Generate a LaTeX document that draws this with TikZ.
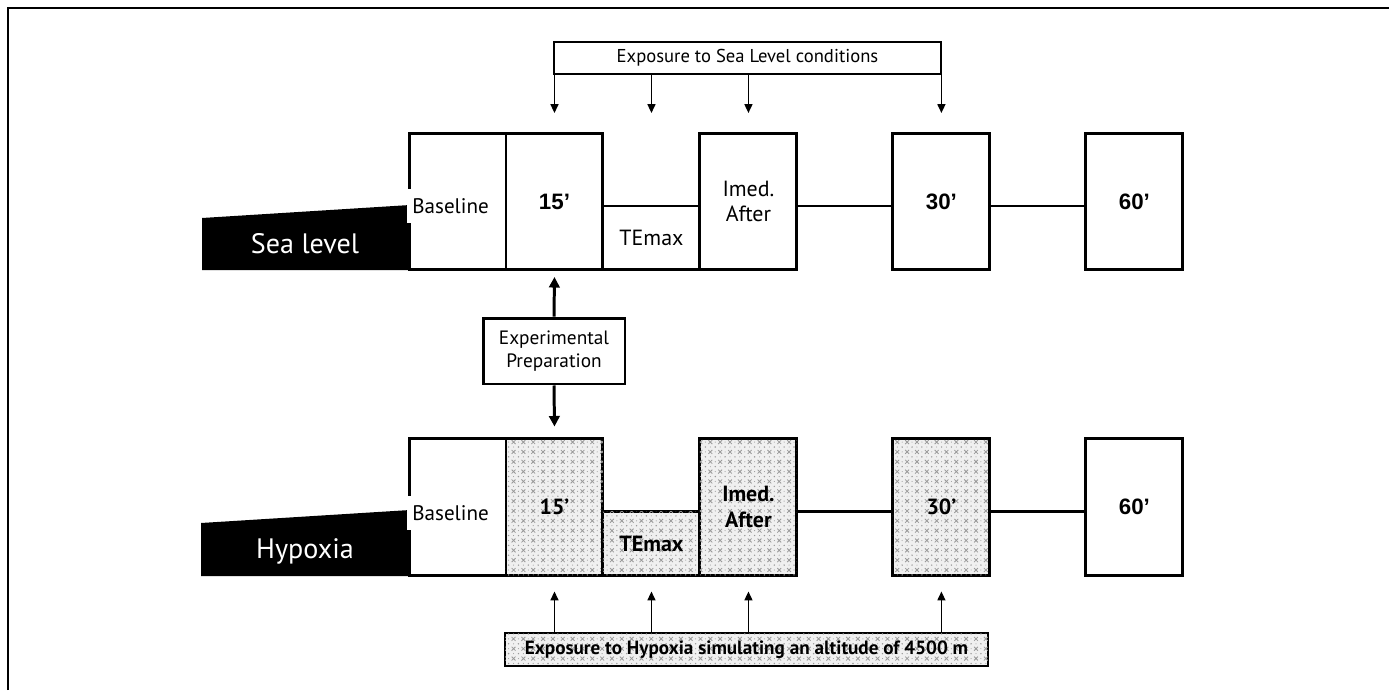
\documentclass[tikz,border=0pt]{standalone}
\usepackage{fontspec}
\setmainfont{PT Sans}
\newfontfamily\arialfont{Liberation Sans}
\usetikzlibrary{positioning,patterns,arrows.meta}

% dotted cross texture of the hypoxia boxes
\pgfdeclarepatternformonly{xdots}{\pgfqpoint{-1pt}{-1pt}}{\pgfqpoint{7pt}{7pt}}{\pgfqpoint{5.6pt}{5.6pt}}{
    \pgfsetlinewidth{0.45pt}
    \pgfpathmoveto{\pgfqpoint{0pt}{0pt}}\pgfpathlineto{\pgfqpoint{2.2pt}{2.2pt}}
    \pgfpathmoveto{\pgfqpoint{0pt}{2.2pt}}\pgfpathlineto{\pgfqpoint{2.2pt}{0pt}}
    \pgfusepath{stroke}
    \pgfpathcircle{\pgfqpoint{3.9pt}{3.9pt}}{0.45pt}
    \pgfpathcircle{\pgfqpoint{3.9pt}{1.1pt}}{0.3pt}
    \pgfpathcircle{\pgfqpoint{1.1pt}{3.9pt}}{0.3pt}
    \pgfusepath{fill}
}

\begin{document}
\begin{tikzpicture}[x=0.02cm, y=-0.02cm,
    phasebox/.style={rectangle, draw=black, line width=1.7pt, fill=white, minimum width=1.94cm, minimum height=2.74cm, inner sep=0pt, outer sep=0pt, align=center, font=\fontsize{12.5}{14.5}\selectfont},
    lowbox/.style={phasebox, minimum height=1.28cm},
    hatched/.style={fill=gray!12, postaction={pattern=xdots, pattern color=gray!80}},
    timelbl/.style={font=\arialfont\bfseries\fontsize{12.7}{14}\selectfont},
    boldlbl/.style={font=\bfseries\fontsize{12.5}{14.5}\selectfont},
    baselbl/.style={anchor=west, fill=white, inner xsep=0.1cm, inner ysep=0pt, minimum height=0.68cm, font=\fontsize{12}{14}\selectfont},
    tag/.style={text=white, font=\fontsize{16}{18}\selectfont},
    expobox/.style={rectangle, draw=black, line width=1pt, inner sep=0pt, minimum height=0.65cm},
    prepbox/.style={rectangle, draw=black, line width=1.7pt, fill=white, minimum width=2.84cm, minimum height=1.32cm, align=center, inner sep=0pt, font=\fontsize{11}{13}\selectfont},
    linkline/.style={line width=1.7pt},
    exparrow/.style={line width=0.8pt, -{Triangle[width=4.5pt,length=5pt]}},
    bigarrow/.style={line width=1.7pt, -{Triangle[width=6pt,length=6pt]}}]

    % frame
    \useasboundingbox (0,0) rectangle (1389,690);
    \draw[line width=1.2pt] (8,690) -- (8,8) -- (1389,8);

    % sea level row
    \fill (202,218) -- (410,205) -- (410,270) -- (202,270) -- cycle;
    \node[tag] (sealbl) at (305,244) {Sea level};
    \node[phasebox] (sbase) at (457.5,201.5) {};
    \node[phasebox, timelbl] (s15) [right=0pt of sbase] {15’};
    \node[lowbox] (stemax) at (s15.south east) [anchor=south west] {TEmax};
    \node[phasebox] (simed) [right=1.94cm of s15] {Imed.\\After};
    \node[phasebox, timelbl] (s30) [right=1.92cm of simed] {30’};
    \node[phasebox, timelbl] (s60) [right=1.92cm of s30] {60’};
    \draw[linkline] (simed.east |- stemax.north) -- (s30.west |- stemax.north);
    \draw[linkline] (s30.east |- stemax.north) -- (s60.west |- stemax.north);
    \node[baselbl] (sbaselbl) at ([xshift=-0.04cm, yshift=-0.09cm]sbase.west) {Baseline};

    % hypoxia row
    \fill (201,523) -- (410,510) -- (410,576) -- (201,576) -- cycle;
    \node[tag] (hyplbl) at (305,551) {Hypoxia};
    \node[phasebox] (hbase) at (457.5,507) {};
    \node[phasebox, hatched, boldlbl] (h15) [right=0pt of hbase] {15’};
    \node[lowbox, hatched, boldlbl] (htemax) at (h15.south east) [anchor=south west] {TEmax};
    \node[phasebox, hatched, boldlbl] (himed) [right=1.94cm of h15] {Imed.\\After};
    \node[phasebox, hatched, boldlbl] (h30) [right=1.92cm of himed] {30’};
    \node[phasebox, timelbl] (h60) [right=1.92cm of h30] {60’};
    \draw[linkline] (himed.east |- htemax.north) -- (h30.west |- htemax.north);
    \draw[linkline] (h30.east |- htemax.north) -- (h60.west |- htemax.north);
    \node[baselbl] (hbaselbl) at ([xshift=-0.04cm, yshift=-0.12cm]hbase.west) {Baseline};

    % preparation
    \node[prepbox] (prep) at (554,351) {Experimental\\Preparation};
    \draw[bigarrow] (prep.north) -- ([yshift=-0.14cm]s15.south);
    \draw[bigarrow] (prep.south) -- ([yshift=0.24cm]h15.north);

    % exposure to sea level
    \node[expobox, minimum width=7.74cm, font=\fontsize{10.6}{12}\selectfont] (seaexp) at (747.5,58) {Exposure to Sea Level conditions};
    \foreach \t in {s15, stemax, simed, s30}
        \draw[exparrow] (seaexp.south -| \t.north) -- ([yshift=0.4cm]\t.north |- s15.north);

    % exposure to hypoxia
    \node[expobox, hatched, minimum width=9.66cm, font=\bfseries\fontsize{10.9}{12}\selectfont] (hypexp) at (746.5,649.5) {Exposure to Hypoxia simulating an altitude of 4500 m};
    \foreach \t in {h15, htemax, himed, h30}
        \draw[exparrow] (hypexp.north -| \t.south) -- ([yshift=-0.32cm]\t.south);

\end{tikzpicture}
\end{document}
